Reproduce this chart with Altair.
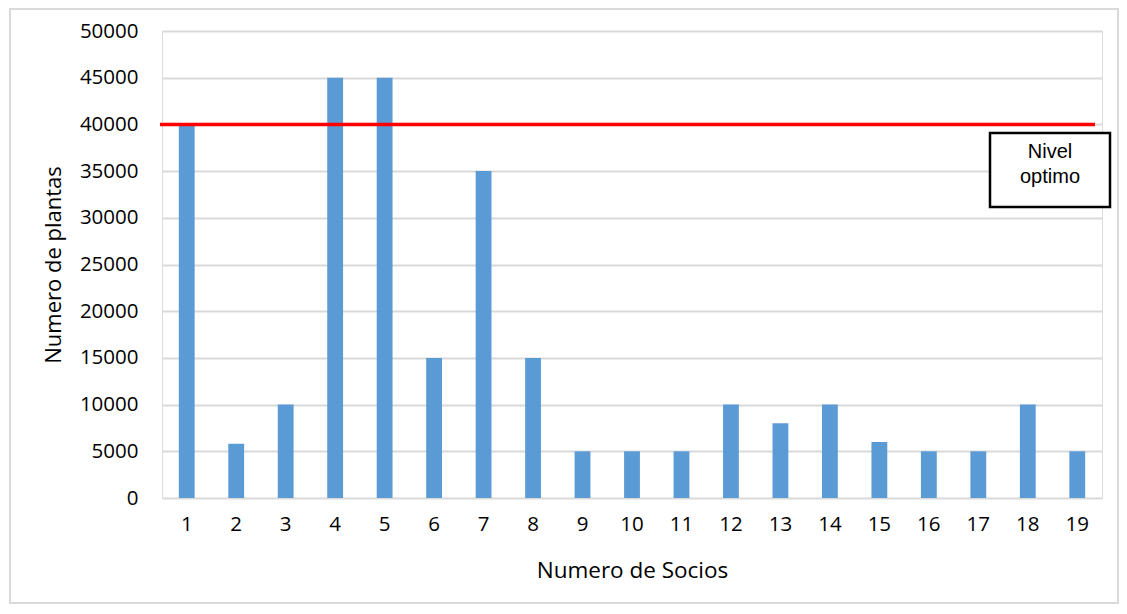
import altair as alt
import pandas as pd

socios = [str(i) for i in range(1, 20)]
plantas = [40000, 5800, 10000, 45000, 45000, 15000, 35000, 15000, 5000, 5000,
           5000, 10000, 8000, 10000, 6000, 5000, 5000, 10000, 5000]
nivel_optimo = 40000
box_text = ["Nivel", "optimo"]

df = pd.DataFrame({"socio": socios, "plantas": plantas})

W, H = 940, 467
FONT = "Open Sans"

x_enc = alt.X("socio:N", sort=socios, title="Numero de Socios",
              scale=alt.Scale(paddingInner=0.68, paddingOuter=0.34),
              axis=alt.Axis(labelAngle=0, domain=False, ticks=False, labelPadding=16,
                            labelFont=FONT, labelFontSize=20.5, labelColor="#000000",
                            titleFont=FONT, titleFontSize=22.5, titleFontWeight="normal",
                            titleColor="#000000", titlePadding=25))

bars = alt.Chart(df).mark_bar(color="#5B9BD5").encode(
    x=x_enc,
    y=alt.Y("plantas:Q", title="Numero de plantas",
            scale=alt.Scale(domain=[0, 50000]),
            axis=alt.Axis(values=list(range(0, 50001, 5000)), format="d",
                          domain=False, ticks=False,
                          labelPadding=24, labelFont=FONT, labelFontSize=20.5,
                          labelColor="#000000", gridColor="#D9D9D9", gridWidth=2,
                          titleFont=FONT, titleFontSize=22, titleFontWeight="normal",
                          titleColor="#000000", titlePadding=14)),
)

rule = alt.Chart(pd.DataFrame({"y": [nivel_optimo]})).mark_rule(
    color="#FF0000", strokeWidth=3.5).encode(
    y="y:Q", x=alt.value(-2), x2=alt.value(933))

box = alt.Chart(pd.DataFrame({"a": [0]})).mark_rect(
    fill="white", stroke="black", strokeWidth=2.5).encode(
    x=alt.value(828), x2=alt.value(948), y=alt.value(102), y2=alt.value(176))

label = alt.Chart(pd.DataFrame({"t": [box_text]})).mark_text(
    font="Liberation Sans Narrow, Liberation Sans", fontSize=20, lineHeight=25,
    color="#000000", align="center", baseline="top").encode(
    text="t", x=alt.value(888), y=alt.value(111))

frame = alt.Chart(pd.DataFrame({"a": [0]})).mark_rect(
    fill=None, stroke="#D9D9D9", strokeWidth=2).encode(
    x=alt.value(-152), x2=alt.value(956), y=alt.value(-22), y2=alt.value(572))

chart = alt.layer(frame, bars, rule, box, label).properties(
    width=W, height=H,
    autosize=alt.AutoSizeParams(type="none"),
    padding={"left": 154, "top": 23, "right": 17, "bottom": 106},
).configure_view(stroke=None).configure(background="white")

chart.save("out.html", embed_options={"renderer": "svg", "actions": False})
